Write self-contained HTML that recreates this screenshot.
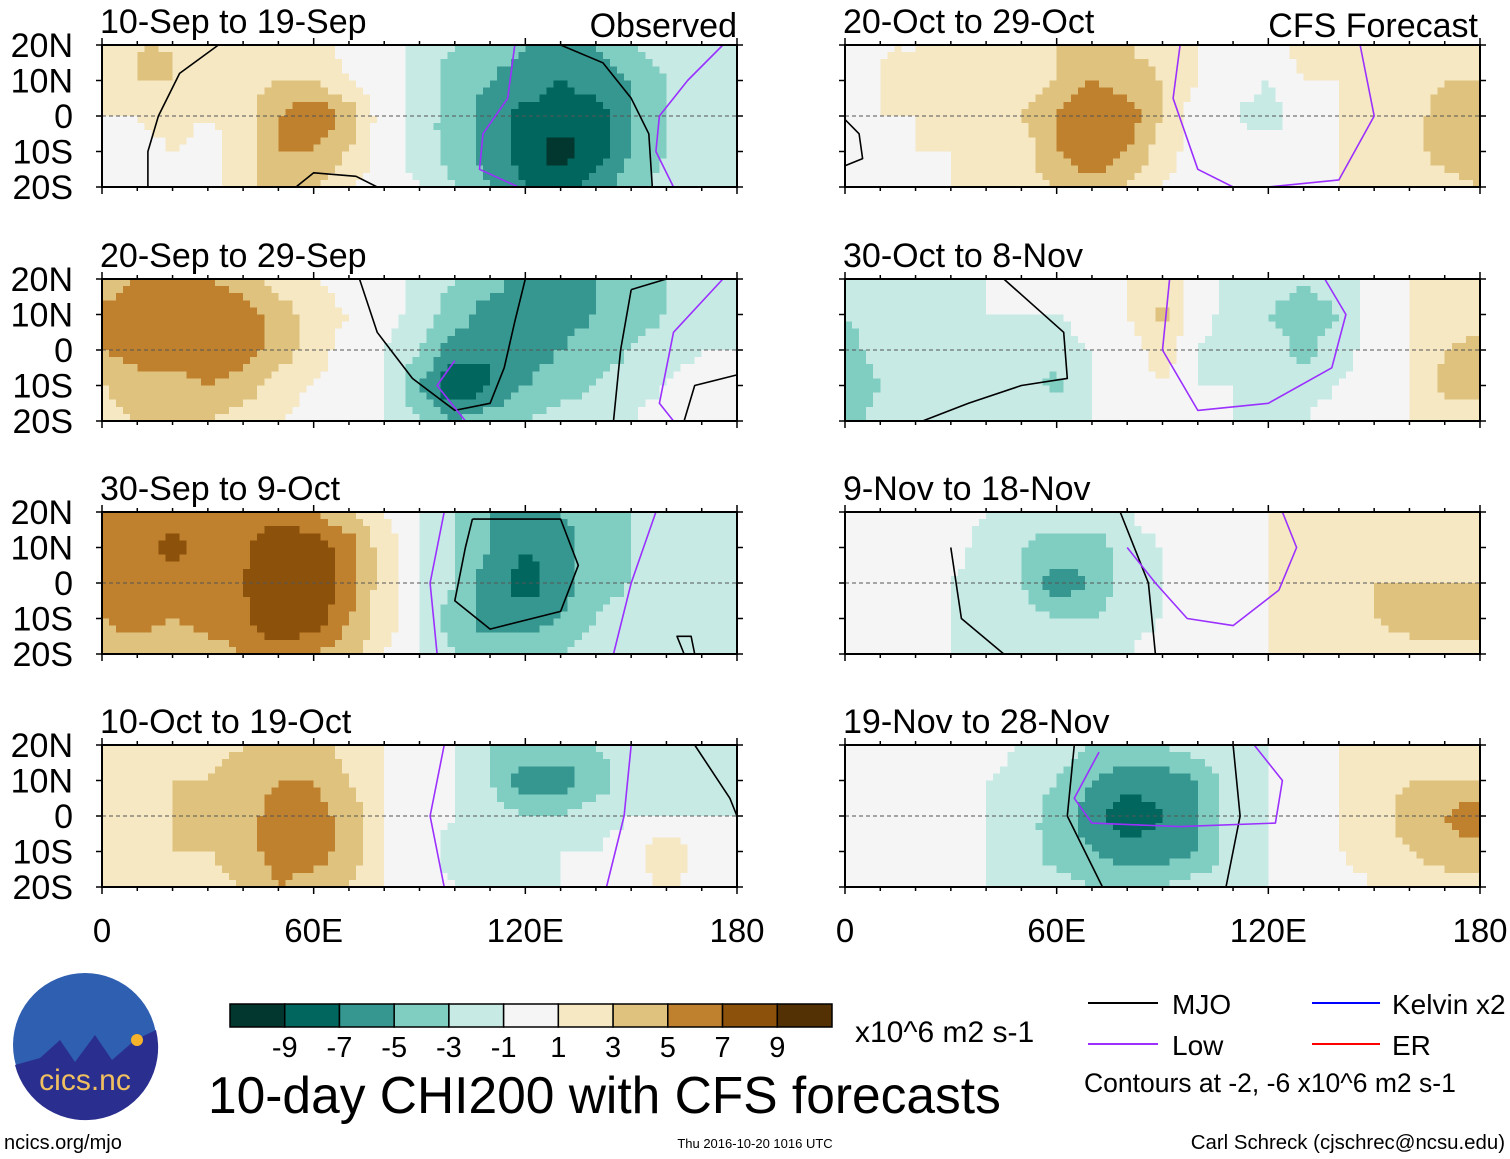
<!DOCTYPE html>
<html><head><meta charset="utf-8"><style>
html,body{margin:0;padding:0;background:#fff;}
svg{display:block;font-family:"Liberation Sans",sans-serif;}
</style></head><body>
<svg id="fig" width="1510" height="1159" viewBox="0 0 1510 1159">
<g id="panels"></g>
<g>
 <g>
  <circle cx="85" cy="1045" r="72" fill="#2f5fb0"/>
  <path d="M15 1065 L40 1058 L60 1040 L75 1062 L95 1035 L112 1060 L135 1040 L156 1030 A72 72 0 0 1 15 1065Z" fill="#2a2f8f"/>
  <circle cx="137" cy="1040" r="6" fill="#f5b22a"/>
  <text x="85" y="1090" text-anchor="middle" font-size="30" fill="#f0c060">cics.nc</text>
 </g>
 <text x="4" y="1149" font-size="20" fill="#000">ncics.org/mjo</text>
 <g id="colorbar"></g>
 <text x="855" y="1042" font-size="30">x10^6 m2 s-1</text>
 <text x="208" y="1113" font-size="51.5">10-day CHI200 with CFS forecasts</text>
 <text x="755" y="1148" font-size="13" text-anchor="middle">Thu 2016-10-20 1016 UTC</text>
 <text x="1505" y="1149" font-size="20.4" text-anchor="end">Carl Schreck (cjschrec@ncsu.edu)</text>
 <g>
  <line x1="1088" y1="1003" x2="1158" y2="1003" stroke="#000" stroke-width="2"/>
  <text x="1172" y="1014" font-size="28">MJO</text>
  <line x1="1088" y1="1044" x2="1158" y2="1044" stroke="#9b30ff" stroke-width="2"/>
  <text x="1172" y="1055" font-size="28">Low</text>
  <line x1="1312" y1="1003" x2="1380" y2="1003" stroke="#0000ff" stroke-width="2"/>
  <text x="1392" y="1014" font-size="28">Kelvin x2</text>
  <line x1="1312" y1="1044" x2="1380" y2="1044" stroke="#ff0000" stroke-width="2"/>
  <text x="1392" y="1055" font-size="28">ER</text>
  <text x="1084" y="1092" font-size="26.5">Contours at -2, -6 x10^6 m2 s-1</text>
 </g>
</g>
</svg>
<script>
const lons = [0,10,20,30,40,50,60,70,80,90,100,110,120,130,140,150,160,170,180];
const lats = [20,10,0,-10,-20];
const levelBounds = [-9,-7,-5,-3,-1,1,3,5,7,9];
const levelColors = ["#01372f","#01665e","#35978f","#80cdc1","#c7eae5","#f5f5f5","#f6e8c3","#dfc27d","#bf812d","#8c510a","#543005"];
const tickLabels = ["-9","-7","-5","-3","-1","1","3","5","7","9"];
const panelTitles = ["10-Sep to 19-Sep","20-Sep to 29-Sep","30-Sep to 9-Oct","10-Oct to 19-Oct","20-Oct to 29-Oct","30-Oct to 8-Nov","9-Nov to 18-Nov","19-Nov to 28-Nov"];
const latLabels = ["20N","10N","0","10S","20S"];
const lonLabels = ["0","60E","120E","180"];
const lonTickVals = [0,60,120,180];

const p1 = [
[1,3,3,2,1,2,2,0,0,-2,-3,-4,-5,-5,-5,-3,-2,-2,-1],
[2,3,3,2,2,3,3,1,0,-2,-4,-5,-6,-7,-6,-5,-3,-2,-1],
[1,1,2,1,2,5,7,4,0,-2,-4,-6,-7.5,-8,-8,-5,-3,-2,-1],
[0,0,1,0,2,5,5,3,0,-2,-4,-6,-8,-10,-8,-5,-3,-2,-1],
[0,0,0,0,2,4,3,1,0,-1,-3,-5,-7,-8,-6,-4,-2,-2,-1]];
const p2 = [
[3,5,5,5,4,2,1,0,0,-2,-3,-4,-6,-6,-5,-4,-3,-3,-2],
[6,7,7,7,6,4,2,1,0,-2,-4,-6,-6,-6,-5,-4,-3,-3,-2],
[5,6,6,7,6,4,2,0,-1,-3,-6,-7,-6,-5,-4,-3,-2,-1,-1],
[3,4,4,5,4,2,1,0,-1,-5,-9,-7,-5,-4,-3,-2,-1,0,0],
[2,3,3,3,2,1,0,0,-1,-3,-5,-4,-3,-2,-2,-1,0,0,0]];
const p3 = [
[5,6,6,6,6,6,5,3,1,-1,-3,-5,-6,-5,-4,-3,-3,-3,-3],
[6,6,7.5,6,6.5,9,8,6,2,-1,-3,-5,-7,-6,-4,-3,-3,-3,-3],
[6,6.5,6,6.5,7,9,9,6,2,-1,-3,-6,-8,-6,-4,-3,-2,-2,-2],
[5,6,5,6,6.5,9,8,5,2,-1,-4,-6,-6,-5,-3,-2,-2,-2,-2],
[4,4,3,4,5,6,5,4,1,-1,-3,-4,-4,-3,-2,-2,-2,-1,-1]];
const p4 = [
[2,2,2,2,3,4,4,2,1,0,-1,-3,-4,-4,-3,-2,-1,-1,-1],
[2,3,3,3,4,5,5,3,1,0,-1,-3,-6,-6,-4,-2,-1,-2,-1],
[1,2,3,3,4,6,6,4,1,0,-1,-2,-3,-3,-2,-1,-1,-1,-1],
[2,2,3,3,4,6,6,4,1,0,-2,-3,-2,-1,-1,0,2.5,0,-1],
[1,2,2,2,3,5,4,3,1,0,-1,-1,-1,-1,0,0,1.5,0,0]];
const p5 = [
[1,1,1,2,2,2,3,3,3,2,1,0,0,2,2,2,2,2,2],
[0,1,1,2,2,2,3,5,4,3,1,0,-1,1,1,2,2,3,3],
[0,1,1,1,2,3,5,7,6,3,0,-1,-2,0,1,1,2,4,5],
[0,0,1,1,1,2,5,7,5,2,0,0,0,0,1,1,2,4,5],
[0,0,0,1,1,2,3,4,3,1,0,0,0,0,1,1,1,2,3]];
const p6 = [
[-2,-2,-2,-1,-1,0,0,0,1,2,0,-2,-2,-3,-2,0,1,2,2],
[-3,-2,-2,-2,-1,-1,-1,0,1,3.5,0,-2,-3,-4,-3,0,1,2,2],
[-4,-2,-2,-2,-2,-1,-2,-1,0,2,-1,-2,-2,-3.5,-2,0,1,3,3.5],
[-5,-3,-2,-2,-2,-2,-3.5,-1,0,1,-1,-1,-2,-2,-1,0,1,3.5,3.5],
[-4,-2,-2,-2,-1,-1,-1,-1,0,0,0,-1,-1,-1,0,0,1,2,2]];
const p7 = [
[0,0,0,0,-1,-2,-2,-2,-1,0,0,0,1,1,1,1,1,1,1],
[0,0,0,0,-2,-3,-4,-4,-2,-1,0,0,1,2,2,2,2,2,2],
[0,0,0,-1,-2,-3,-6,-5,-2,-1,0,0,1,2,2,3,3,3,3],
[0,0,-1,-1,-2,-2,-3,-3,-2,-1,0,0,1,1,2,3,4,4,4],
[0,0,-1,-1,-2,-2,-2,-2,-1,0,0,0,1,1,1,2,2,2,2]];
const p8 = [
[0,0,0,0,0,-1,-2,-3,-3,-3,-2,-1,-1,0,1,1,2,2,2],
[0,0,0,0,-1,-2,-3,-5,-6,-6,-5,-2,-1,0,1,2,3,3,3],
[0,0,0,0,-1,-2,-4,-6,-9,-7,-5,-2,-1,0,1,2,4,5,7],
[0,0,0,0,-1,-2,-4,-5,-6,-6,-5,-2,-1,0,1,2,3,4,4],
[0,0,0,0,-1,-1,-2,-3,-4,-3,-2,-2,-1,0,0,1,2,2,2]];
const fields = [p1,p2,p3,p4,p5,p6,p7,p8];

const mjoColor="#000", lowColor="#9b30ff";
const contours = [
 [[mjoColor,[[33,20],[22,12],[16,0],[13,-10],[13,-20]]],[mjoColor,[[130,20],[142,15],[150,5],[155,-5],[156,-20]]],
  [lowColor,[[117,20],[115,5],[108,-5],[107,-15],[118,-20]]],[lowColor,[[176,20],[166,10],[158,0],[157,-10],[162,-20]]],
  [mjoColor,[[55,-20],[60,-16],[72,-17],[78,-20]]]],
 [[mjoColor,[[73,20],[78,5],[88,-8],[100,-17],[110,-15],[114,-5],[117,8],[120,20]]],[mjoColor,[[150,17],[160,20],[180,20]]],
  [mjoColor,[[150,17],[147,0],[145,-20]]],[lowColor,[[100,-3],[95,-10],[103,-20]]],[lowColor,[[176,20],[162,5],[158,-15],[162,-20]]],
  [mjoColor,[[165,-20],[168,-10],[180,-7]]]],
 [[mjoColor,[[105,18],[130,18],[135,5],[130,-8],[110,-13],[100,-5],[103,10],[105,18]]],
  [lowColor,[[97,20],[93,0],[95,-20]]],[lowColor,[[157,20],[150,0],[145,-20]]],[mjoColor,[[165,-20],[163,-15],[167,-15],[168,-20]]]],
 [[lowColor,[[97,20],[93,0],[97,-20]]],[lowColor,[[150,20],[148,0],[143,-20]]],[mjoColor,[[168,20],[178,5],[180,0]]]],
 [[mjoColor,[[0,-1],[4,-5],[5,-12],[0,-14]]],[lowColor,[[95,20],[93,5],[100,-15],[110,-20]]],[lowColor,[[146,20],[150,0],[140,-18],[120,-20]]]],
 [[mjoColor,[[45,20],[62,5],[63,-8],[50,-10],[35,-15],[22,-20]]],[lowColor,[[92,20],[90,0],[100,-17],[120,-15],[138,-5],[142,10],[136,20]]]],
 [[mjoColor,[[78,20],[86,0],[88,-20]]],[mjoColor,[[30,10],[33,-10],[45,-20]]],[lowColor,[[80,10],[88,0],[97,-10],[110,-12],[123,-2],[128,10],[124,20]]]],
 [[mjoColor,[[65,20],[63,0],[73,-20]]],[mjoColor,[[110,20],[112,0],[108,-20]]],[lowColor,[[72,18],[65,5],[70,-2],[95,-3],[122,-2],[124,10],[116,20]]]]
];

const NS="http://www.w3.org/2000/svg";
function mk(tag,attrs,parent){const e=document.createElementNS(NS,tag);for(const k in attrs)e.setAttribute(k,attrs[k]);parent.appendChild(e);return e;}
function colorFor(v){let i=0;while(i<levelBounds.length&&v>=levelBounds[i])i++;return levelColors[i];}
function sample(f,lon,lat){
  let fi=lon/10, fj=(20-lat)/10;
  let i0=Math.min(Math.floor(fi),17), j0=Math.min(Math.floor(fj),3);
  let tx=fi-i0, ty=fj-j0;
  tx=tx*tx*(3-2*tx)*0.5+tx*0.5; ty=ty*ty*(3-2*ty)*0.5+ty*0.5;
  const a=f[j0][i0],b=f[j0][i0+1],c=f[j0+1][i0],d=f[j0+1][i0+1];
  return a*(1-tx)*(1-ty)+b*tx*(1-ty)+c*(1-tx)*ty+d*tx*ty;
}
const colX=[102,845], rowY=[45,279,512,745], PW=635, PH=142;
const panelsG=document.getElementById('panels');
fields.forEach((f,idx)=>{
  const col=idx<4?0:1,row=idx%4;
  const x0=colX[col],y0=rowY[row];
  const xs=lon=>x0+lon/180*PW, ys=lat=>y0+(20-lat)/40*PH;
  const g=mk('g',{},panelsG);
  
  
  const step=2;
  for(let lon=0;lon<180;lon+=step){
    for(let lat=20;lat>-20;lat-=step){
      const v=sample(f,lon+step/2,lat-step/2);
      const r=mk('rect',{x:xs(lon),y:ys(lat),width:xs(lon+step)-xs(lon)+0.6,height:ys(lat-step)-ys(lat)+0.6,fill:colorFor(v),'shape-rendering':'crispEdges'},g);
      
      
    }
  }
  const eq=mk('line',{x1:x0,x2:x0+PW,y1:ys(0),y2:ys(0),stroke:'#555','stroke-dasharray':'4,3','stroke-width':1},g);
  
  
  contours[idx].forEach(cn=>{
    const pts=cn[1].map(p=>xs(p[0]).toFixed(1)+','+ys(p[1]).toFixed(1)).join(' ');
    const pl=mk('polyline',{points:pts,fill:'none',stroke:cn[0],'stroke-width':1.6,'stroke-linejoin':'round'},g);
    
    
  });
  const fr=mk('rect',{x:x0,y:y0,width:PW,height:PH,fill:'none',stroke:'#000','stroke-width':2},g);
  
  
  for(let lon=0;lon<=180;lon+=10){
    const L=lon%60===0?7:4;
    mk('line',{x1:xs(lon),x2:xs(lon),y1:y0,y2:y0-L,stroke:'#000','stroke-width':1.5},g);
    mk('line',{x1:xs(lon),x2:xs(lon),y1:y0+PH,y2:y0+PH+L,stroke:'#000','stroke-width':1.5},g);
  }
  lats.forEach(lat=>{
    mk('line',{x1:x0-6,x2:x0,y1:ys(lat),y2:ys(lat),stroke:'#000','stroke-width':1.5},g);
    mk('line',{x1:x0+PW,x2:x0+PW+6,y1:ys(lat),y2:ys(lat),stroke:'#000','stroke-width':1.5},g);
  });
  const t=mk('text',{x:x0-2,y:y0-12,'font-size':34},g);t.textContent=panelTitles[idx];
  
  
  if(col===0){
    latLabels.forEach((s,k)=>{const tt=mk('text',{x:73,y:ys(lats[k])+12,'font-size':34,'text-anchor':'end'},g);tt.textContent=s;
      
      });
  }
  if(row===3){
    lonLabels.forEach((s,k)=>{const tt=mk('text',{x:xs(lonTickVals[k]),y:942,'font-size':33,'text-anchor':'middle'},g);tt.textContent=s;
      
      });
  }
});
function hdr(txt,x,name){const t=mk('text',{x:x,y:37,'font-size':34,'text-anchor':'end'},panelsG);t.textContent=txt;
  
  }
hdr('Observed',737,'observed-label');
hdr('CFS Forecast',1478,'forecast-label');
const cb=document.getElementById('colorbar');
const cbX=230,cbW=602/11;
levelColors.forEach((c,i)=>{const r=mk('rect',{x:cbX+i*cbW,y:1004,width:cbW,height:23,fill:c,stroke:'#000','stroke-width':1.5},cb);
  
  });
tickLabels.forEach((s,i)=>{const t=mk('text',{x:cbX+(i+1)*cbW,y:1057,'font-size':29,'text-anchor':'middle'},cb);t.textContent=s;
  
  });
</script>
</body></html>
